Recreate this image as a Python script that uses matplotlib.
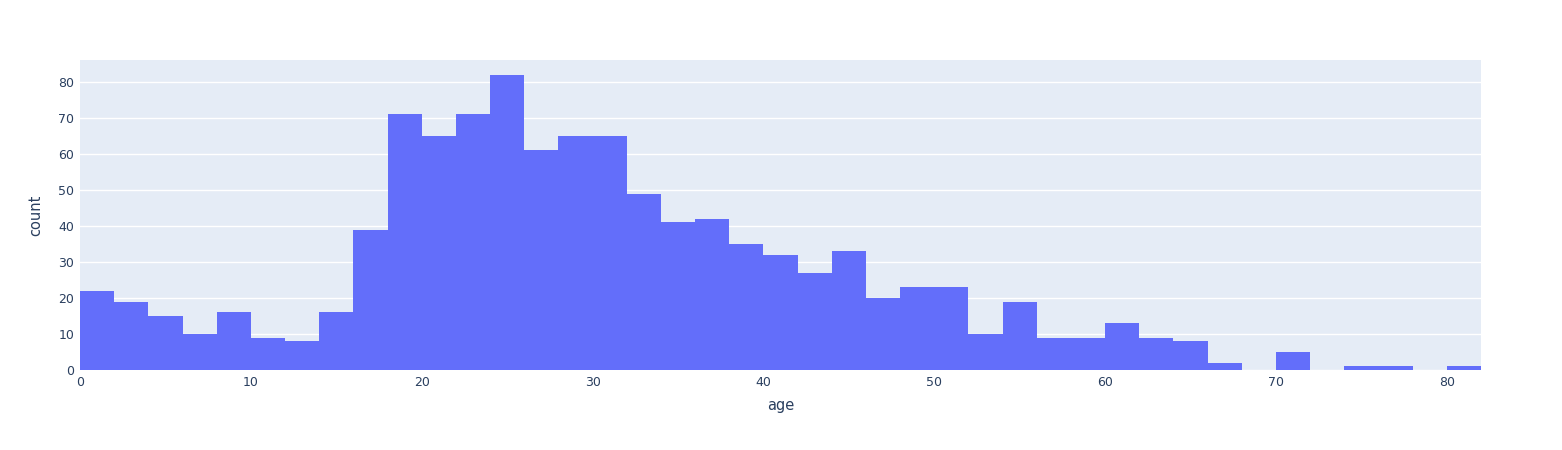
import numpy as np
import matplotlib.pyplot as plt

# age histogram, bins of width 2 starting at 0
bin_start = np.arange(0, 82, 2)
counts = [22, 19, 15, 10, 16, 9, 8, 16, 39, 71,
          65, 71, 82, 61, 65, 65, 49, 41, 42, 35,
          32, 27, 33, 20, 23, 23, 10, 19, 9, 9,
          13, 9, 8, 2, 0, 5, 0, 1, 1, 0,
          1]
xticks = [0, 10, 20, 30, 40, 50, 60, 70, 80]
yticks = [0, 10, 20, 30, 40, 50, 60, 70, 80]

fig = plt.figure(figsize=(15.62, 4.5), dpi=100)
ax = fig.add_axes([80/1562, 80/450, 1401/1562, 310/450])
ax.set_facecolor('#e5ecf6')

ax.bar(bin_start, counts, width=2, align='edge', color='#636efa', linewidth=0, zorder=2)

ax.set_xlim(0, 82)
ax.set_ylim(0, 86.1)
ax.set_xticks(xticks)
ax.set_yticks(yticks)
ax.grid(axis='y', color='white', linewidth=1, zorder=1)
ax.set_axisbelow(True)
for s in ax.spines.values():
    s.set_visible(False)
ax.tick_params(length=0, labelsize=9, labelcolor='#2a3f5f', pad=4)

ax.set_xlabel('age', fontsize=10.5, color='#2a3f5f', labelpad=7)
ax.set_ylabel('count', fontsize=10.5, color='#2a3f5f', labelpad=11)

fig.savefig('out.png', dpi=100)
